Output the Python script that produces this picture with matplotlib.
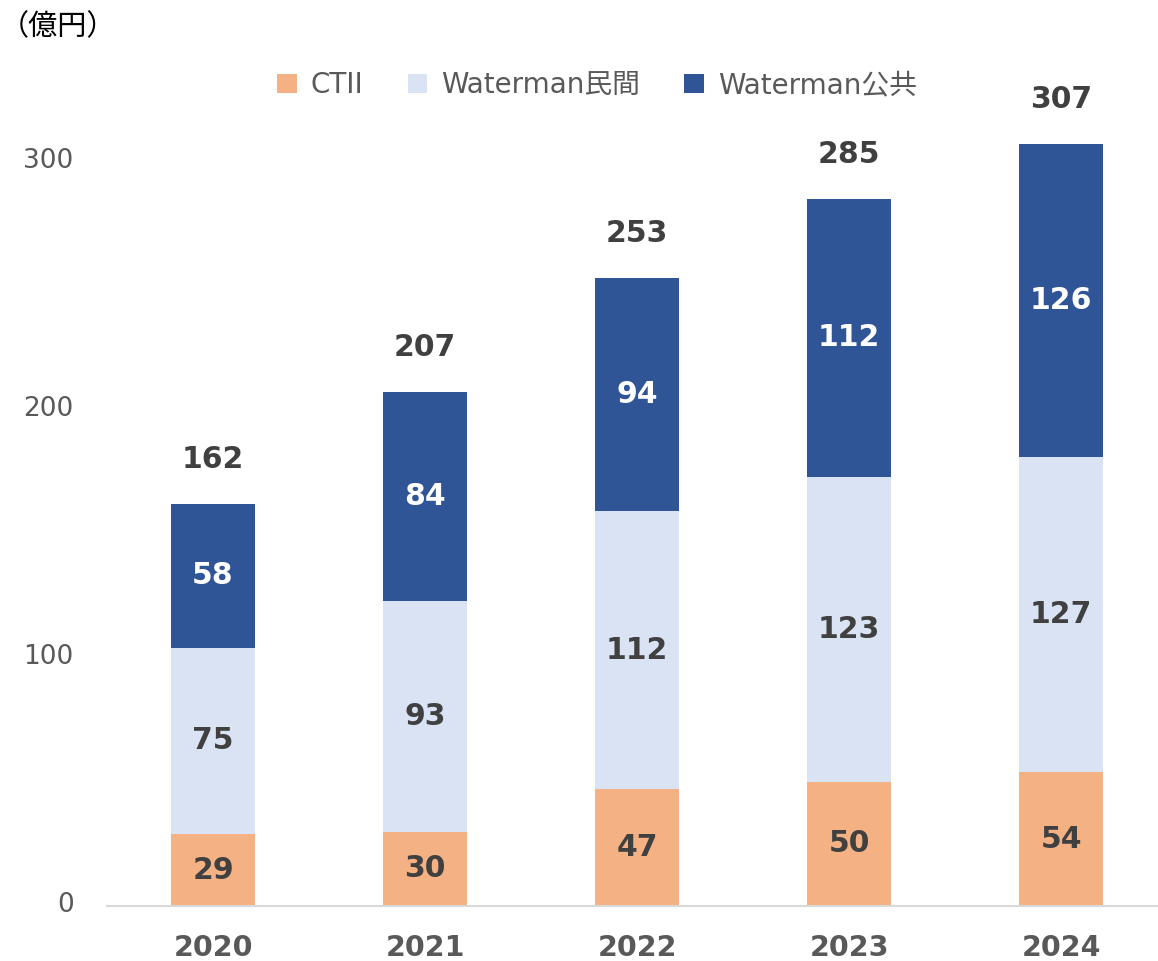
import matplotlib
matplotlib.use("Agg")
import matplotlib.pyplot as plt
import matplotlib.transforms as mtransforms
import numpy as np

plt.rcParams['font.family'] = ['DejaVu Sans', 'Noto Sans CJK JP']

years = ['2020', '2021', '2022', '2023', '2024']
ctii = [29, 30, 47, 50, 54]
wm_private = [75, 93, 112, 123, 127]
wm_public = [58, 84, 94, 112, 126]
totals = [162, 207, 253, 285, 307]

series_names = ['CTII', 'Waterman民間', 'Waterman公共']
colors = ['#F4B183', '#DAE3F3', '#2F5597']
label_colors = ['#404040', '#404040', 'white']

fig = plt.figure(figsize=(11.58, 9.61), dpi=100)
ax = fig.add_axes([0.0924, 0.0572, 0.9154, 0.8522])

x = np.arange(len(years))
bottom = np.zeros(len(years))
for vals, name, col, lc in zip([ctii, wm_private, wm_public], series_names, colors, label_colors):
    ax.bar(x, vals, 0.396, bottom=bottom, color=col, label=name)
    for xi, b, v in zip(x, bottom, vals):
        ax.text(xi, b + v / 2, str(v), ha='center', va='center',
                fontsize=21.5, fontweight='bold', color=lc)
    bottom = bottom + np.array(vals)

for xi, top, t in zip(x, bottom, totals):
    ax.annotate(str(t), (xi, top), xytext=(0, 32), textcoords='offset points',
                ha='center', va='center', fontsize=21.5, fontweight='bold', color='#404040')

ax.set_xlim(-0.5, 4.5)
ax.set_ylim(0, 330)
ax.set_yticks([0, 100, 200, 300])
ax.set_xticks(x)
ax.set_xticklabels(years, fontsize=20.5, fontweight='bold', color='#595959')
ax.tick_params(axis='y', length=0, labelsize=19, labelcolor='#595959', pad=24)
ax.tick_params(axis='x', length=0, pad=20)
shift = mtransforms.ScaledTranslation(0, 4 / 100, fig.dpi_scale_trans)
for lbl in ax.get_yticklabels():
    lbl.set_transform(lbl.get_transform() + shift)
for s in ['top', 'right', 'left']:
    ax.spines[s].set_visible(False)
ax.spines['bottom'].set_color('#D9D9D9')
ax.spines['bottom'].set_linewidth(1.5)

fig.legend(loc='center', bbox_to_anchor=(597 / 1158, 1 - 85 / 961), ncol=3,
           frameon=False, fontsize=20, labelcolor='#595959',
           handlelength=0.7, handleheight=0.7, handletextpad=0.5, columnspacing=1.6)

fig.text(0.0, 1 - 27 / 961, '（億円）', ha='left', va='center', fontsize=21,
         color='black', family=['Noto Sans CJK JP', 'DejaVu Sans'])

fig.savefig('out.png', dpi=100)
